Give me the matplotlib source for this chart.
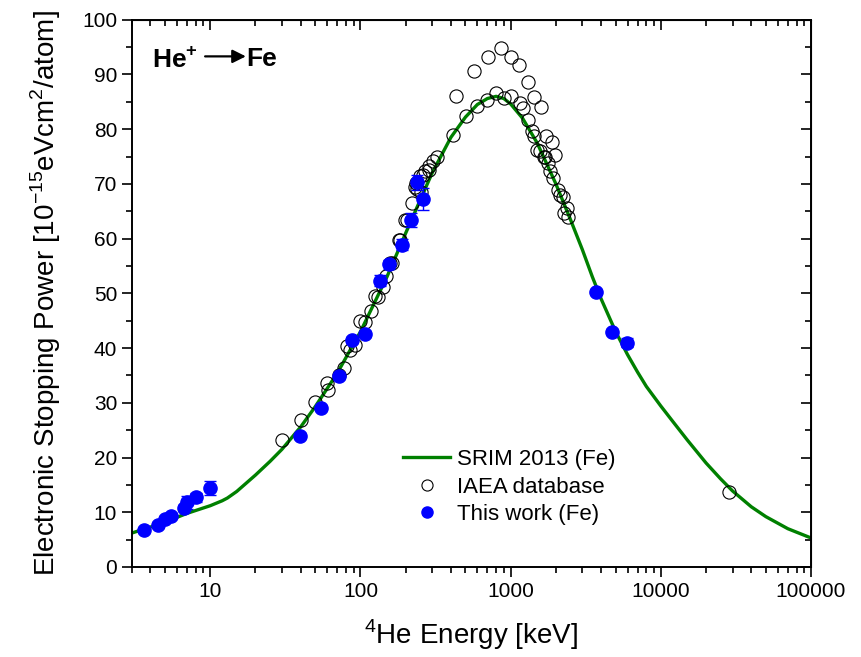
import matplotlib.pyplot as plt
from matplotlib.lines import Line2D
from matplotlib.ticker import LogLocator, MultipleLocator, FixedLocator, NullFormatter

plt.rcParams['font.family'] = ['Liberation Sans', 'DejaVu Sans']
plt.rcParams['mathtext.fontset'] = 'custom'
plt.rcParams['mathtext.rm'] = 'Liberation Sans'
plt.rcParams['mathtext.bf'] = 'Liberation Sans:bold'

# SRIM 2013 curve (keV, 1e-15 eV cm2/atom)
srim_e = [3, 4, 5, 7, 10, 12, 13, 15, 20, 25, 30, 40, 50, 70, 100, 150, 200, 300, 400,
          500, 600, 700, 800, 900, 1000, 1200, 1500, 2000, 2500, 3000, 3500, 4000,
          5000, 6000, 7000, 8000, 10000, 12000, 15000, 20000, 25000, 30000, 40000,
          50000, 70000, 100000]
srim_s = [6.2, 7.3, 8.2, 9.8, 11.2, 12.1, 12.6, 13.8, 16.8, 19.3, 21.5, 25.6, 29.3,
          35.4, 43.0, 53.0, 61.0, 72.0, 78.5, 82.2, 84.5, 85.6, 86.0, 85.6, 84.6,
          82.0, 77.5, 70.0, 63.5, 58.0, 53.0, 49.0, 43.0, 38.8, 35.6, 33.0, 29.4,
          26.6, 23.2, 19.0, 16.1, 13.9, 11.0, 9.2, 7.0, 5.3]

# IAEA database
iaea_e = [857, 710, 1000, 1141, 569, 1298, 1436, 1592, 432, 503, 410, 599, 698, 798,
          902, 1004, 1153, 1214, 1298, 1380, 1430, 1710, 1876, 1567, 1973, 1693,
          321, 305, 287, 268, 248, 233, 237, 254, 222, 203, 183, 157,
          1490, 1665, 1780, 1828, 1922, 2073, 2131, 2220, 2363, 2421, 2250,
          284, 261, 231, 197, 181, 161, 149, 142, 125, 131, 118, 107, 99, 81, 92,
          30, 40, 50, 60, 61, 72, 78, 85, 28500]
iaea_s = [94.8, 93.1, 93.1, 91.8, 90.7, 88.7, 85.8, 84.0, 86.0, 82.4, 79.0, 84.2, 85.4,
          86.6, 85.7, 86.0, 84.8, 83.9, 81.7, 79.7, 78.7, 78.7, 77.6, 76.1, 75.2, 75.0,
          75.0, 74.1, 73.2, 72.4, 71.4, 70.1, 69.0, 68.6, 66.6, 63.4, 59.8, 55.5,
          76.2, 75.0, 73.8, 72.3, 71.1, 68.9, 68.0, 67.6, 65.6, 64.0, 64.7,
          72.6, 71.7, 69.5, 63.4, 59.8, 55.5, 53.1, 51.1, 49.5, 49.4, 46.8, 44.8, 45.0,
          40.3, 40.6, 23.2, 26.9, 30.2, 33.6, 32.4, 35.0, 36.4, 39.7, 13.7]

# This work (Fe)
work_e = [3.6, 4.5, 5.0, 5.5, 6.7, 7.0, 8.0, 10.0, 39.8, 54.9, 72, 88, 107, 135, 156,
          188, 217, 238, 261, 3720, 4740, 5950]
work_s = [6.8, 7.7, 8.8, 9.4, 10.8, 11.8, 12.7, 14.4, 24.0, 29.0, 34.9, 41.5, 42.6,
          52.3, 55.3, 58.9, 63.4, 70.3, 67.2, 50.3, 43.0, 41.0]
work_err = [0.4, 0.4, 0.4, 0.4, 0.6, 1.2, 0.8, 1.3, 0.4, 0.4, 0.5, 0.5, 0.5,
            1.0, 0.8, 1.0, 1.2, 1.4, 2.0, 0.4, 0.5, 0.8]

fig = plt.figure(figsize=(8.61, 6.57), dpi=100)
ax = fig.add_axes([0.153, 0.137, 0.789, 0.833])

ax.plot(srim_e, srim_s, color='#008000', lw=2.4, zorder=2)
ax.plot(iaea_e, iaea_s, ls='none', marker='o', ms=9.5, mfc='none', mec='black',
        mew=0.8, zorder=3)
ax.errorbar(work_e, work_s, yerr=work_err, fmt='o', ms=9.5, color='blue',
            ecolor='blue', elinewidth=1.0, capsize=4, capthick=1.0, zorder=4)

ax.set_xscale('log')
ax.set_xlim(3, 100000)
ax.set_ylim(0, 100)
ax.xaxis.set_major_locator(FixedLocator([10, 100, 1000, 10000, 100000]))
ax.xaxis.set_major_formatter(plt.FuncFormatter(lambda v, p: f'{int(round(v))}'))
ax.xaxis.set_minor_locator(LogLocator(base=10, subs=range(2, 10), numticks=20))
ax.xaxis.set_minor_formatter(NullFormatter())
ax.yaxis.set_major_locator(MultipleLocator(10))
ax.yaxis.set_minor_locator(MultipleLocator(5))

ax.tick_params(which='both', direction='out', labelsize=15, width=1.2)
ax.tick_params(which='major', length=7)
ax.tick_params(which='minor', length=4)
for s in ax.spines.values():
    s.set_linewidth(1.4)

# inward ticks on top and right without labels
axt = ax.secondary_xaxis('top')
axt.set_xticks([10, 100, 1000, 10000, 100000])
axt.xaxis.set_minor_locator(LogLocator(base=10, subs=range(2, 10), numticks=20))
axt.tick_params(which='both', direction='in', labeltop=False, width=1.2)
axt.tick_params(which='major', length=7)
axt.tick_params(which='minor', length=4)
axt.xaxis.set_minor_formatter(NullFormatter())
axt.set_xticklabels([])
axr = ax.secondary_yaxis('right')
axr.yaxis.set_major_locator(MultipleLocator(10))
axr.yaxis.set_minor_locator(MultipleLocator(5))
axr.tick_params(which='both', direction='in', labelright=False, width=1.2)
axr.tick_params(which='major', length=7)
axr.tick_params(which='minor', length=4)

ax.set_xlabel('$^{4}$He Energy [keV]', fontsize=20, labelpad=12)
ax.set_ylabel('Electronic Stopping Power [10$^{-15}$eVcm$^{2}$/atom]', fontsize=20,
              labelpad=14)

ax.text(0.03, 0.928, r'He$^{\mathbf{+}}$', transform=ax.transAxes, fontsize=19,
        fontweight='bold', va='center', ha='left')
ax.annotate('', xy=(0.168, 0.933), xytext=(0.108, 0.933), xycoords='axes fraction',
            arrowprops=dict(arrowstyle='-|>', color='black', lw=1.6,
                            mutation_scale=20, shrinkA=0, shrinkB=0))
ax.text(0.168, 0.928, 'Fe', transform=ax.transAxes, fontsize=19,
        fontweight='bold', va='center', ha='left')

handles = [
    Line2D([], [], color='#008000', lw=2.4),
    Line2D([], [], ls='none', marker='o', ms=8, mfc='none', mec='black', mew=0.8),
    Line2D([], [], ls='none', marker='o', ms=8, color='blue'),
]
labels = ['SRIM 2013 (Fe)', 'IAEA database', 'This work (Fe)']
ax.legend(handles, labels, loc='lower left', bbox_to_anchor=(0.38, 0.052),
          frameon=False, fontsize=16, handlelength=2.1, handletextpad=0.3,
          labelspacing=0.3, borderpad=0.1)

fig.savefig('out.png', dpi=100)
